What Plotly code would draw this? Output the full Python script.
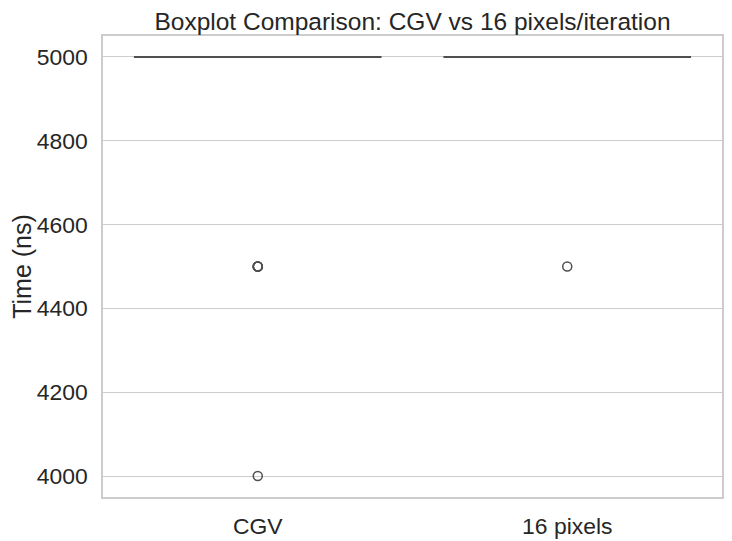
import plotly.graph_objects as go

categories = ["CGV", "16 pixels"]
cgv_times = [5000] * 95 + [4500] * 4 + [4000]
px16_times = [5000] * 99 + [4500]
yticks = [4000, 4200, 4400, 4600, 4800, 5000]

line_col = "#4f4f4f"
grid_col = "#cccccc"

# page body has an 8px default margin; size the figure to the visible area
W, H = 724, 533

fig = go.Figure()
for name, vals in zip(categories, [cgv_times, px16_times]):
    fig.add_trace(go.Box(
        x=[name] * len(vals), y=vals, name=name,
        boxpoints="outliers", jitter=0, pointpos=0,
        whiskerwidth=0.5,
        fillcolor="#4878d0",
        line=dict(color=line_col, width=2),
        marker=dict(symbol="circle-open", size=9, color=line_col,
                    line=dict(width=1.5, color=line_col)),
        width=0.8, showlegend=False,
    ))

fig.update_layout(
    width=W, height=H,
    margin=dict(l=95, r=10, t=28, b=44),
    paper_bgcolor="white", plot_bgcolor="white",
    font=dict(family="Liberation Sans, Arial, sans-serif", size=22.9, color="#262626"),
    title=dict(text="Boxplot Comparison: CGV vs 16 pixels/iteration",
               x=0.5, xanchor="center", xref="paper", yanchor="middle",
               yref="container", y=1 - 13 / H, font=dict(size=24.5)),
)
fig.update_xaxes(
    type="category", range=[-0.5, 1.5], showgrid=False,
    showline=True, linecolor=grid_col, linewidth=1.5, mirror=True,
    ticks="", zeroline=False, automargin=False, ticklabelstandoff=8,
)
fig.update_yaxes(
    range=[3950, 5050], tickvals=yticks, ticktext=[str(v) for v in yticks],
    showgrid=True, gridcolor=grid_col, gridwidth=1.25,
    showline=True, linecolor=grid_col, linewidth=1.5, mirror=True,
    zeroline=False, ticks="", automargin=False, ticklabelstandoff=9,
    title=dict(text="Time (ns)", standoff=12, font=dict(size=25)),
)
fig.write_html("out.html")
